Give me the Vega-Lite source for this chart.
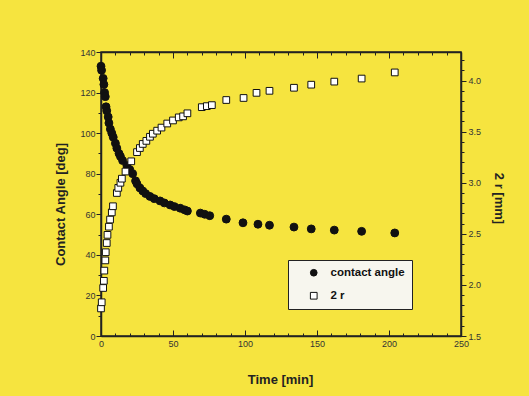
{
  "$schema": "https://vega.github.io/schema/vega-lite/v6.json",
  "width": 360,
  "height": 284,
  "autosize": {"type": "none"},
  "padding": {"left": 101, "top": 52, "right": 68, "bottom": 60},
  "background": "#F6E43F",
  "config": {
    "view": {"stroke": "#222", "strokeWidth": 1.5},
    "font": "Liberation Sans",
    "axis": {"labelFont": "Liberation Sans", "titleFont": "Liberation Sans", "grid": false, "domainColor": "#222", "domainWidth": 1.5, "tickColor": "#222", "tickWidth": 1, "labelColor": "#333", "labelFontSize": 9, "titleFontSize": 13, "titleFontWeight": "bold", "titleColor": "#222"},
    "legend": {"title": null, "orient": "none", "legendX": 187, "legendY": 208,
      "fillColor": "#F7F6EE", "strokeColor": "#222",
      "padding": 7, "symbolOffset": 13, "labelFontSize": 11.5, "labelFontWeight": "bold",
      "labelColor": "#111", "labelFont": "Liberation Sans", "labelOffset": 11,
      "symbolSize": 45, "symbolStrokeWidth": 1, "rowPadding": 10, "columnPadding": 0}
  },
  "datasets": {
    "angle": [
      {"time": 0, "value": 133, "series": "contact angle"},
      {"time": 0.4, "value": 131, "series": "contact angle"},
      {"time": 1.5, "value": 127, "series": "contact angle"},
      {"time": 2, "value": 124, "series": "contact angle"},
      {"time": 2.5, "value": 120, "series": "contact angle"},
      {"time": 3, "value": 118, "series": "contact angle"},
      {"time": 3.5, "value": 113, "series": "contact angle"},
      {"time": 4, "value": 111, "series": "contact angle"},
      {"time": 5, "value": 108, "series": "contact angle"},
      {"time": 5.5, "value": 105, "series": "contact angle"},
      {"time": 6.5, "value": 102, "series": "contact angle"},
      {"time": 7.5, "value": 100, "series": "contact angle"},
      {"time": 8.5, "value": 98, "series": "contact angle"},
      {"time": 10, "value": 95, "series": "contact angle"},
      {"time": 11, "value": 92.6, "series": "contact angle"},
      {"time": 12.5, "value": 90, "series": "contact angle"},
      {"time": 13.5, "value": 88.5, "series": "contact angle"},
      {"time": 15, "value": 86.5, "series": "contact angle"},
      {"time": 18, "value": 84, "series": "contact angle"},
      {"time": 20, "value": 82, "series": "contact angle"},
      {"time": 22, "value": 80, "series": "contact angle"},
      {"time": 24, "value": 76.5, "series": "contact angle"},
      {"time": 25, "value": 75, "series": "contact angle"},
      {"time": 27, "value": 73, "series": "contact angle"},
      {"time": 29, "value": 71.5, "series": "contact angle"},
      {"time": 31, "value": 70.2, "series": "contact angle"},
      {"time": 34, "value": 68.8, "series": "contact angle"},
      {"time": 37, "value": 67.7, "series": "contact angle"},
      {"time": 41, "value": 66.6, "series": "contact angle"},
      {"time": 44, "value": 65.6, "series": "contact angle"},
      {"time": 48, "value": 64.6, "series": "contact angle"},
      {"time": 51, "value": 63.8, "series": "contact angle"},
      {"time": 55, "value": 63, "series": "contact angle"},
      {"time": 58, "value": 62.2, "series": "contact angle"},
      {"time": 60, "value": 61.6, "series": "contact angle"},
      {"time": 69, "value": 60.6, "series": "contact angle"},
      {"time": 72, "value": 60, "series": "contact angle"},
      {"time": 75.5, "value": 59.3, "series": "contact angle"},
      {"time": 87, "value": 57.6, "series": "contact angle"},
      {"time": 98.6, "value": 55.8, "series": "contact angle"},
      {"time": 109, "value": 55.1, "series": "contact angle"},
      {"time": 117, "value": 54.6, "series": "contact angle"},
      {"time": 134, "value": 53.7, "series": "contact angle"},
      {"time": 146, "value": 52.8, "series": "contact angle"},
      {"time": 162, "value": 52.2, "series": "contact angle"},
      {"time": 181, "value": 51.6, "series": "contact angle"},
      {"time": 204, "value": 50.8, "series": "contact angle"}
    ],
    "r2": [
      {"time": 0, "value": 1.77, "series": "2 r"},
      {"time": 0.5, "value": 1.83, "series": "2 r"},
      {"time": 1.5, "value": 1.97, "series": "2 r"},
      {"time": 2, "value": 2.04, "series": "2 r"},
      {"time": 2.3, "value": 2.14, "series": "2 r"},
      {"time": 3, "value": 2.24, "series": "2 r"},
      {"time": 3.3, "value": 2.32, "series": "2 r"},
      {"time": 4, "value": 2.41, "series": "2 r"},
      {"time": 4.5, "value": 2.49, "series": "2 r"},
      {"time": 5.5, "value": 2.57, "series": "2 r"},
      {"time": 6.3, "value": 2.64, "series": "2 r"},
      {"time": 7.5, "value": 2.71, "series": "2 r"},
      {"time": 8.3, "value": 2.77, "series": "2 r"},
      {"time": 11, "value": 2.9, "series": "2 r"},
      {"time": 12, "value": 2.95, "series": "2 r"},
      {"time": 13.5, "value": 3.0, "series": "2 r"},
      {"time": 14.5, "value": 3.04, "series": "2 r"},
      {"time": 17, "value": 3.11, "series": "2 r"},
      {"time": 21, "value": 3.21, "series": "2 r"},
      {"time": 25, "value": 3.3, "series": "2 r"},
      {"time": 27, "value": 3.34, "series": "2 r"},
      {"time": 29, "value": 3.38, "series": "2 r"},
      {"time": 31.5, "value": 3.41, "series": "2 r"},
      {"time": 34, "value": 3.45, "series": "2 r"},
      {"time": 36, "value": 3.48, "series": "2 r"},
      {"time": 39, "value": 3.51, "series": "2 r"},
      {"time": 42, "value": 3.54, "series": "2 r"},
      {"time": 46, "value": 3.58, "series": "2 r"},
      {"time": 50, "value": 3.61, "series": "2 r"},
      {"time": 54, "value": 3.64, "series": "2 r"},
      {"time": 57, "value": 3.65, "series": "2 r"},
      {"time": 60, "value": 3.68, "series": "2 r"},
      {"time": 70, "value": 3.74, "series": "2 r"},
      {"time": 73.5, "value": 3.75, "series": "2 r"},
      {"time": 77, "value": 3.76, "series": "2 r"},
      {"time": 87, "value": 3.81, "series": "2 r"},
      {"time": 99, "value": 3.83, "series": "2 r"},
      {"time": 108, "value": 3.88, "series": "2 r"},
      {"time": 117, "value": 3.9, "series": "2 r"},
      {"time": 134, "value": 3.93, "series": "2 r"},
      {"time": 146, "value": 3.96, "series": "2 r"},
      {"time": 162, "value": 3.99, "series": "2 r"},
      {"time": 181, "value": 4.02, "series": "2 r"},
      {"time": 204, "value": 4.08, "series": "2 r"}
    ]
  },
  "layer": [
    {
      "data": {"name": "angle"},
      "mark": {"type": "point", "filled": true, "size": 62, "strokeWidth": 1, "opacity": 1},
      "encoding": {
        "x": {
          "field": "time", "type": "quantitative",
          "scale": {"domain": [0, 250], "nice": false, "zero": false},
          "axis": {
            "orient": "bottom", "title": "Time [min]",
            "values": [0,10,20,30,40,50,60,70,80,90,100,110,120,130,140,150,160,170,180,190,200,210,220,230,240,250],
            "labelExpr": "datum.value % 50 === 0 ? datum.label : ''",
            "tickSize": {"expr": "datum.value % 50 === 0 ? -6 : -3"},
            "labelPadding": 9, "labelFlush": false, "labelOverlap": false,
            "titleX": 179, "titleY": 43, "titleAlign": "center", "titleBaseline": "middle"
          }
        },
        "y": {
          "field": "value", "type": "quantitative",
          "scale": {"domain": [0, 140], "nice": false},
          "axis": {
            "orient": "left", "title": "Contact Angle [deg]",
            "values": [0,10,20,30,40,50,60,70,80,90,100,110,120,130,140],
            "labelExpr": "datum.value % 20 === 0 ? datum.label : ''",
            "tickSize": {"expr": "datum.value % 20 === 0 ? 5 : 3"},
            "labelPadding": 1, "labelOverlap": false, "labelFlush": false,
            "titleX": -41, "titleY": 152, "titleAngle": -90, "titleAlign": "center", "titleBaseline": "middle"
          }
        },
        "shape": {"field": "series", "type": "nominal", "scale": {"domain": ["contact angle", "2 r"], "range": ["circle", "square"]}},
        "fill": {"field": "series", "type": "nominal", "scale": {"domain": ["contact angle", "2 r"], "range": ["#111", "#FFFFFF"]}},
        "stroke": {"field": "series", "type": "nominal", "scale": {"domain": ["contact angle", "2 r"], "range": ["#111", "#111"]}}
      }
    },
    {
      "data": {"name": "r2"},
      "mark": {"type": "point", "filled": true, "size": 45, "strokeWidth": 1, "opacity": 1},
      "encoding": {
        "x": {
          "field": "time", "type": "quantitative",
          "scale": {"domain": [0, 250], "nice": false, "zero": false},
          "axis": {
            "orient": "top", "title": null, "labels": false, "domain": true,
            "values": [0,10,20,30,40,50,60,70,80,90,100,110,120,130,140,150,160,170,180,190,200,210,220,230,240,250],
            "tickSize": {"expr": "datum.value % 50 === 0 ? -6 : -3"}
          }
        },
        "y": {
          "field": "value", "type": "quantitative",
          "scale": {"domain": [1.5, 4.28], "nice": false, "zero": false},
          "axis": {
            "orient": "right", "title": "2 r [mm]",
            "values": [1.5,1.6,1.7,1.8,1.9,2.0,2.1,2.2,2.3,2.4,2.5,2.6,2.7,2.8,2.9,3.0,3.1,3.2,3.3,3.4,3.5,3.6,3.7,3.8,3.9,4.0,4.1,4.2],
            "format": ".1f",
            "labelExpr": "abs(datum.value * 2 - round(datum.value * 2)) < 0.001 ? datum.label : ''",
            "tickSize": {"expr": "abs(datum.value * 2 - round(datum.value * 2)) < 0.001 ? 5 : 3"},
            "labelPadding": 2, "labelOverlap": false, "labelFlush": false,
            "titleX": 37, "titleY": 146, "titleAngle": 90, "titleAlign": "center", "titleBaseline": "middle"
          }
        },
        "shape": {"field": "series", "type": "nominal", "scale": {"domain": ["contact angle", "2 r"], "range": ["circle", "square"]}},
        "fill": {"field": "series", "type": "nominal", "scale": {"domain": ["contact angle", "2 r"], "range": ["#111", "#FFFFFF"]}},
        "stroke": {"field": "series", "type": "nominal", "scale": {"domain": ["contact angle", "2 r"], "range": ["#111", "#111"]}}
      }
    }
  ],
  "resolve": {"scale": {"y": "independent"}, "axis": {"x": "independent", "y": "independent"}}
}
